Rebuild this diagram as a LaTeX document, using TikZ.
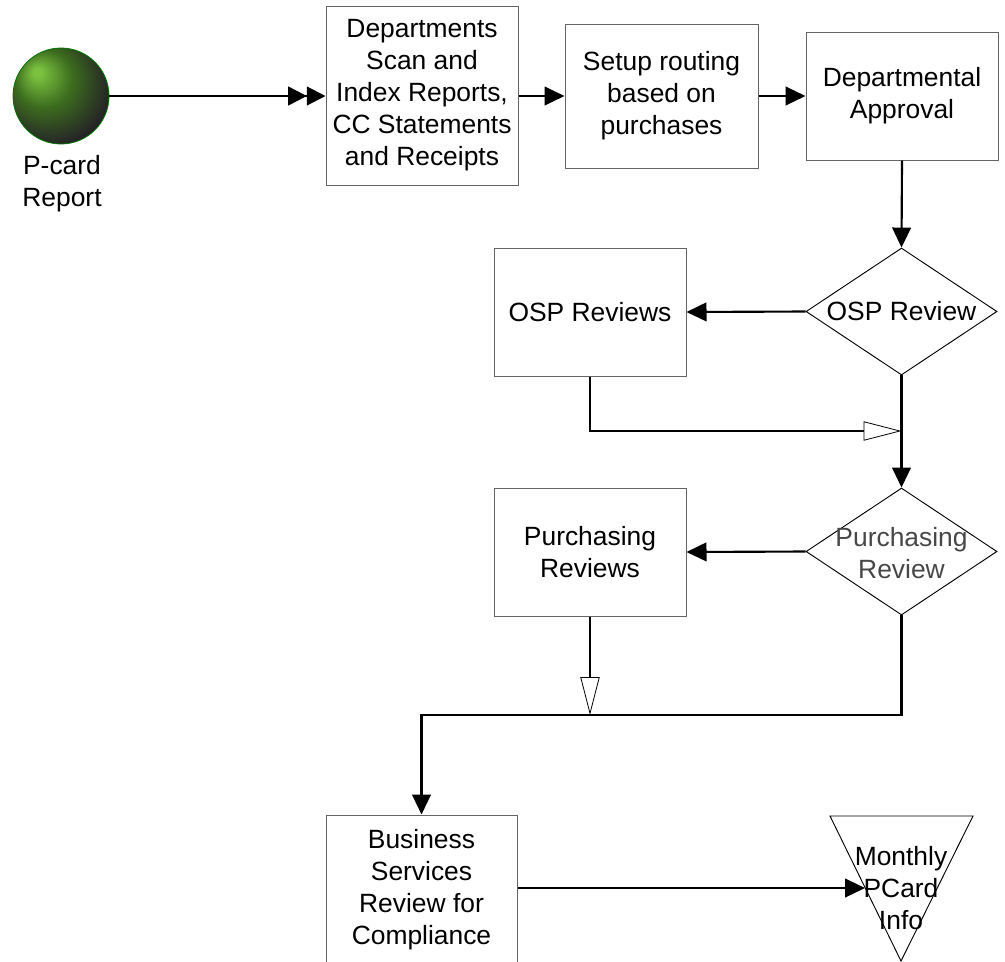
\documentclass[tikz,border=0pt]{standalone}
\usepackage{fontspec}
\setmainfont{Liberation Sans}
\usetikzlibrary{arrows.meta,shapes.geometric}
\definecolor{gl}{RGB}{124,194,64}
\definecolor{gm}{RGB}{60,108,30}
\definecolor{boxgray}{RGB}{100,100,100}
\pgfdeclareradialshading{gball}{\pgfpoint{-13bp}{13bp}}{color(0bp)=(gl); color(2bp)=(gl); color(15bp)=(gm); color(30bp)=(black!85); color(40bp)=(black); color(50bp)=(black)}
\begin{document}
\begin{tikzpicture}[x=0.75pt,y=-0.75pt,
  every node/.style={font=\fontsize{19.8}{24}\selectfont, align=center, inner sep=0pt},
  box/.style={draw=boxgray, line width=0.75pt, fill=white},
  dia/.style={draw=black, line width=0.7pt, diamond, minimum width=191*0.75pt, minimum height=127*0.75pt},
  conn/.style={line width=1.6pt, draw=black},
  arr/.style={conn, -{Triangle[length=15pt,width=14pt]}},
  dblarr/.style={conn, -{Triangle[length=14pt,width=14pt,sep=0pt]Triangle[length=14pt,width=14pt]}},
  openarr/.style={conn, -{Triangle[open,length=28.5pt,width=14.5pt,line width=0.6pt,fill=white]}}
]
\useasboundingbox (0,0) rectangle (1005,961);

% start ball
\node[circle, minimum size=96*0.75pt, draw=green!45!black, line width=0.6pt, shading=gball] (ball) at (61,96) {};
\node (balllbl) at (62,184) {P-card\\Report};

% boxes
\node[box, minimum width=192*0.75pt, minimum height=179*0.75pt] (b1) at (422,95.5) {Departments\\Scan and\\Index Reports,\\CC Statements\\and Receipts};
\node[box, minimum width=193*0.75pt, minimum height=144*0.75pt] (b2) at (661.5,96) {Setup routing\\based on\\purchases};
\node[box, minimum width=192*0.75pt, minimum height=128*0.75pt] (b3) at (902,96) {Departmental\\Approval};
\node[box, minimum width=192*0.75pt, minimum height=128*0.75pt] (b4) at (590,312) {OSP Reviews};
\node[box, minimum width=192*0.75pt, minimum height=128*0.75pt] (b5) at (590,552) {Purchasing\\Reviews};
\node[box, minimum width=191*0.75pt, minimum height=150*0.75pt] (b6) at (421.5,890) {};
\node (b6t) at (421.5,890) {Business\\Services\\Review for\\Compliance};

% diamonds
\node[dia] (d1) at (901.5,311.5) {};
\node (d1t) at (901.5,311.5) {OSP Review};
\node[dia] (d2) at (901.5,551.5) {};
\node[text=black!72] (d2t) at (901.5,553) {Purchasing\\Review};

% end triangle
\coordinate (t1) at (830,816);
\coordinate (t2) at (973,816);
\coordinate (t3) at (901,961);
\draw[line width=0.7pt] (t1) -- (t2) -- (t3) -- cycle;
\node (tt) at (901,888) {Monthly\\PCard\\Info};
\coordinate (tedge) at (865,888);

% junction points
\coordinate (j1) at (901.5,431);
\coordinate (j2) at (590,715);
\coordinate (j3) at (901.5,715);

% connectors
\draw[dblarr] (ball.east) -- (b1.west |- ball.east);
\draw[arr] (b1.east |- b2.west) -- (b2.west);
\draw[arr] (b2.east) -- (b3.west);
\draw[arr] (b3.south) -- (d1.north);
\draw[arr] (d1.west) -- (b4.east);
\draw[openarr] (b4.south) |- (j1);
\draw[arr] (d1.south) -- (d2.north);
\draw[arr] (d2.west) -- (b5.east);
\draw[openarr] (b5.south) -- (j2);
\draw[arr] (d2.south) -- (j3) -| (b6.north);
\draw[arr] (b6.east |- tedge) -- (tedge);
\end{tikzpicture}
\end{document}
